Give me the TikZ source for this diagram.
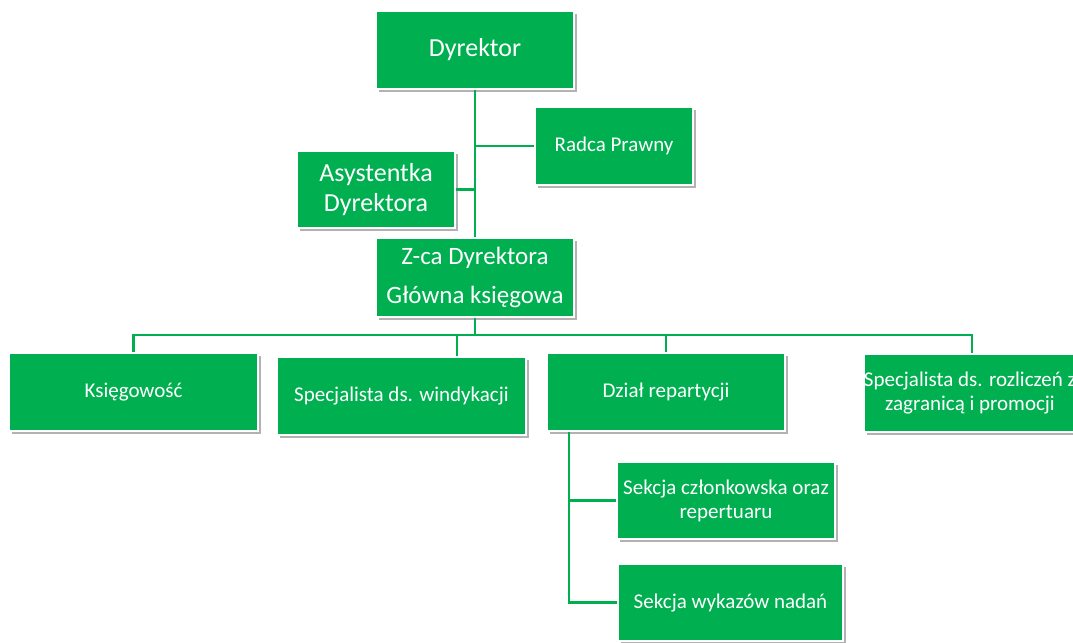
\documentclass[tikz,border=0pt]{standalone}
\usepackage{fontspec}
\setmainfont{Carlito}
\usetikzlibrary{calc,shadows}
\definecolor{orggreen}{RGB}{0,176,80}
\begin{document}
\begin{tikzpicture}[x=0.75pt,y=-0.75pt,
  box/.style={rectangle, fill=orggreen, draw=white, line width=1.2pt, text=white, align=center, inner sep=0pt,
    drop shadow={shadow xshift=2.5pt, shadow yshift=-2.5pt, opacity=0.3, fill=black}},
  big/.style={font=\fontsize{19.5}{22.5}\selectfont},
  small/.style={font=\fontsize{15.75}{18}\selectfont},
  link/.style={orggreen, line width=1.7pt}]
\useasboundingbox (0,0) rectangle (1073,642);
\clip (0,0) rectangle (1073,642);
\node[box, big, minimum width=148.5pt, minimum height=58.5pt] (dyr) at (475,50){Dyrektor};
\node[box, small, minimum width=118.5pt, minimum height=58.5pt] (radca) at (614,146){Radca Prawny};
\node[box, big, minimum width=118.5pt, minimum height=57.75pt] (asyst) at (376,189.5){Asystentka\\Dyrektora};
\node[box, font=\fontsize{18.75}{29.25}\selectfont, minimum width=148.5pt, minimum height=59.25pt] (zca) at (475,277.5){Z-ca Dyrektora\\Główna księgowa};
\node[box, small, minimum width=186.75pt, minimum height=58.5pt] (ksieg) at (133.5,392){Księgowość};
\node[box, small, minimum width=186.75pt, minimum height=58.5pt] (windyk) at (401.5,396){Specjalista ds. windykacji};
\node[box, small, minimum width=178.5pt, minimum height=58.5pt] (dzial) at (666,392){Dział repartycji};
\node[box, small, minimum width=159pt, minimum height=58.5pt] (rozl) at (970,393){Specjalista ds. rozliczeń z\\zagranicą i promocji};
\node[box, small, minimum width=163.5pt, minimum height=57.75pt] (sekcz) at (726,500.5){Sekcja członkowska oraz\\repertuaru};
\node[box, small, minimum width=168.75pt, minimum height=57.75pt] (sekwyk) at (730.5,602.5){Sekcja wykazów nadań};
\coordinate (bus) at ($(zca.south)+(0,17)$);
\coordinate (dtop) at ($(dzial.south west)+(23,0)$);
\draw[link](dyr) -- (zca);
\draw[link](radca.west) -- (radca.west -| dyr.south);
\draw[link](asyst.east) -- (asyst.east -| dyr.south);
\draw[link](zca.south) -- (bus);
\draw[link](bus) -| (ksieg.north);
\draw[link](bus) -| ($(windyk.north)+(55.5,0)$);
\draw[link](bus) -| (dzial.north);
\draw[link](bus) -| ($(rozl.north)+(2,0)$);
\draw[link](dtop) |- (sekwyk.west);
\draw[link](sekcz.west) -- (sekcz.west -| dtop);
\end{tikzpicture}
\end{document}
